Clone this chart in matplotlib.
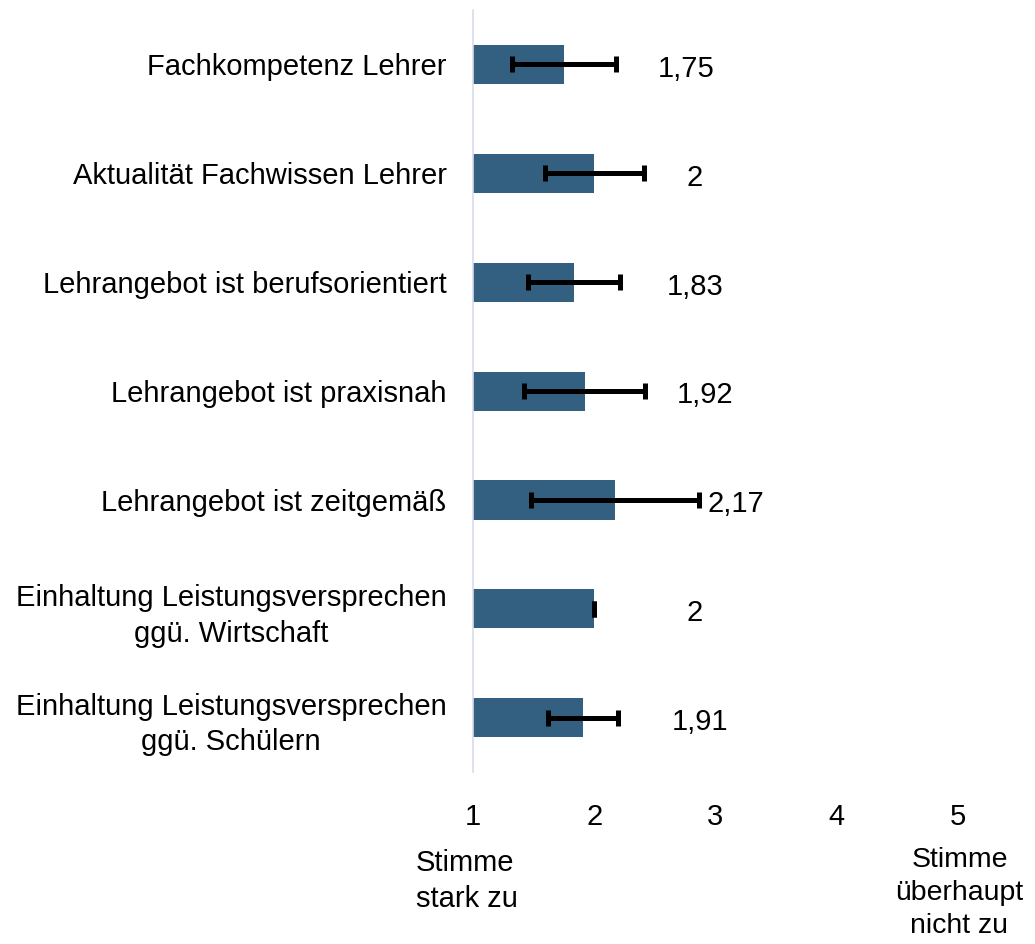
import matplotlib.pyplot as plt

plt.rcParams['font.family'] = ['Liberation Sans', 'DejaVu Sans']

categories = ['Fachkompetenz Lehrer',
              'Aktualität Fachwissen Lehrer',
              'Lehrangebot ist berufsorientiert',
              'Lehrangebot ist praxisnah',
              'Lehrangebot ist zeitgemäß',
              'Einhaltung Leistungsversprechen\nggü. Wirtschaft',
              'Einhaltung Leistungsversprechen\nggü. Schülern']
values = [1.75, 2.0, 1.83, 1.92, 2.17, 2.0, 1.91]
errors = [0.43, 0.41, 0.38, 0.50, 0.69, 0.0, 0.29]
value_labels = ['1,75', '2', '1,83', '1,92', '2,17', '2', '1,91']
ticks = [1, 2, 3, 4, 5]

# x positions of the value labels (left edge, in data units)
label_x = [2.52, 2.76, 2.60, 2.68, 2.93, 2.76, 2.64]

fig = plt.figure(figsize=(10.35, 9.44), dpi=100)
ax = fig.add_axes([0.457, 0.182, 0.4686, 0.8074])

ypos = list(range(len(categories)))
ax.barh(ypos, [v - 1 for v in values], left=1, height=0.36, color='#336080')
ax.errorbar(values, ypos, xerr=errors, fmt='none', ecolor='black',
            elinewidth=3.6, capsize=6, capthick=3.6)

for y, lx, lab in zip(ypos, label_x, value_labels):
    ax.text(lx, y + 0.04, lab, ha='left', va='center', fontsize=21)

ax.set_xlim(1, 5)
ax.set_ylim(6.5, -0.5)
ax.set_yticks(ypos)
ax.set_yticklabels(categories, fontsize=21, linespacing=1.35,
                   multialignment='center')
ax.set_xticks(ticks)
ax.set_xticklabels([str(t) for t in ticks], fontsize=21)
ax.tick_params(axis='both', length=0)
ax.tick_params(axis='y', pad=19)
ax.tick_params(axis='x', pad=22)

for s in ['top', 'right', 'bottom']:
    ax.spines[s].set_visible(False)
ax.spines['left'].set_color('#d9d9f0')
ax.spines['left'].set_linewidth(1.2)

fig.text(0.402, 0.067, 'Stimme\nstark zu', ha='left', va='center',
         fontsize=21, linespacing=1.35)
fig.text(0.927, 0.054, 'Stimme\nüberhaupt\nnicht zu', ha='center',
         va='center', fontsize=20.5, linespacing=1.35)

fig.savefig('out.png', dpi=100)
